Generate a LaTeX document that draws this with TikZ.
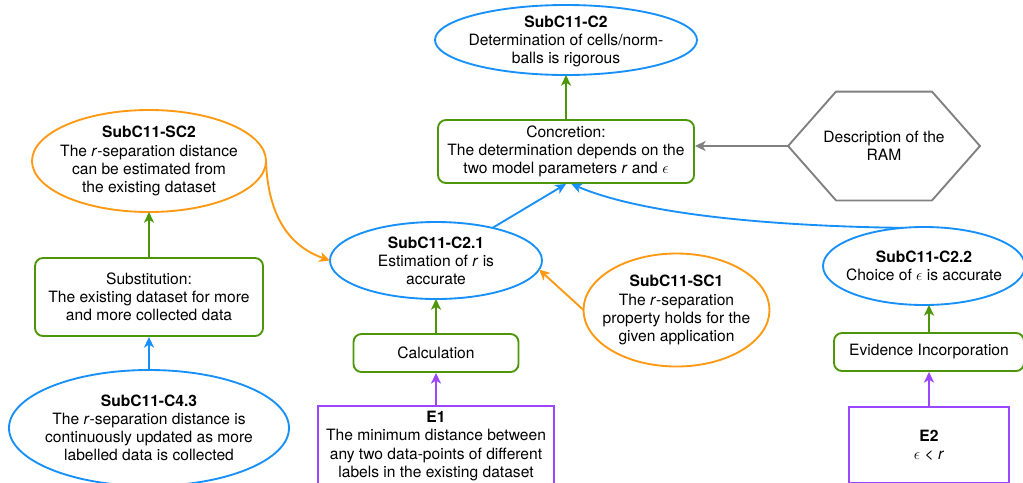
\documentclass[tikz,border=0pt]{standalone}
\usepackage{fontspec}
\setmainfont{TeX Gyre Heros}
\usetikzlibrary{shapes.geometric,arrows.meta,calc}

\definecolor{cblue}{RGB}{24,144,250}
\definecolor{corange}{RGB}{255,153,20}
\definecolor{cgreen}{RGB}{77,150,10}
\definecolor{cpurple}{RGB}{155,70,255}
\definecolor{cgray}{RGB}{128,128,128}

\tikzset{
  oval/.style={ellipse, draw, inner sep=0pt, outer sep=0pt},
  txt/.style={align=center, inner sep=0pt, text=black},
  stepbox/.style={draw=cgreen, rounded corners=6pt, align=center, inner sep=0pt},
  evbox/.style={draw=cpurple, align=center, inner sep=0pt},
  arr/.style={-{Stealth[length=8pt,width=7.5pt,inset=2.2pt]}},
}

\begin{document}
\begin{tikzpicture}[x=0.75pt, y=-0.75pt, line width=1.4pt,
  font=\fontsize{11.7}{13.6}\selectfont]
\path[fill=white, use as bounding box] (0,0) rectangle (1023,482);

% top claim
\node[oval, draw=cblue, minimum width=196.5pt, minimum height=52.5pt] (c2) at (566,40) {};
\node[txt] (c2t) at ([yshift=-1pt]c2) {\textbf{SubC11-C2}\\Determination of cells/norm-\\balls is rigorous};

% concretion strategy
\node[stepbox, minimum width=192pt, minimum height=47.25pt] (conc) at (566,151.5)
  {Concretion:\\The determination depends on the\\two model parameters \textit{r} and $\epsilon$};

% context hexagon
\node[minimum width=142.5pt, minimum height=80.25pt, inner sep=0pt] (hex) at (884,146) {};
\draw[cgray] (hex.west) -- ($(hex.north west)!0.25!(hex.north east)$)
  -- ($(hex.north west)!0.75!(hex.north east)$) -- (hex.east)
  -- ($(hex.south west)!0.75!(hex.south east)$)
  -- ($(hex.south west)!0.25!(hex.south east)$) -- cycle;
\node[txt] (hext) at (hex) {Description of the\\RAM};

% left column
\node[oval, draw=corange, minimum width=175.5pt, minimum height=76.5pt] (sc2) at (149,161) {};
\node[txt] (sc2t) at (sc2) {\textbf{SubC11-SC2}\\The \textit{r}-separation distance\\can be estimated from\\the existing dataset};

\node[stepbox, minimum width=171pt, minimum height=58.5pt] (subst) at (149,297)
  {Substitution:\\The existing dataset for more\\and more collected data};

\node[oval, draw=cblue, minimum width=210pt, minimum height=87pt] (c43) at (149,428) {};
\node[txt] (c43t) at (c43) {\textbf{SubC11-C4.3}\\The \textit{r}-separation distance is\\continuously updated as more\\labelled data is collected};

% middle column
\node[oval, draw=cblue, minimum width=159pt, minimum height=57.75pt] (c21) at (436,260.5) {};
\node[txt] (c21t) at (c21) {\textbf{SubC11-C2.1}\\Estimation of \textit{r} is\\accurate};

\node[stepbox, minimum width=123.75pt, minimum height=28.5pt] (calc) at (436,353) {Calculation};

\node[evbox, minimum width=177pt, minimum height=60pt] (e1) at (436,446)
  {\textbf{E1}\\The minimum distance between\\any two data-points of different\\labels in the existing dataset};

\node[oval, draw=corange, minimum width=139.5pt, minimum height=84.75pt] (sc1) at (676.5,310) {};
\node[txt] (sc1t) at (sc1) {\textbf{SubC11-SC1}\\The \textit{r}-separation\\property holds for the\\given application};

% right column
\node[oval, draw=cblue, minimum width=151.5pt, minimum height=58.5pt] (c22) at (924,266) {};
\node[txt] (c22t) at (c22) {\textbf{SubC11-C2.2}\\Choice of $\epsilon$ is accurate};

\node[stepbox, minimum width=142.5pt, minimum height=28.5pt] (evid) at (929,352) {Evidence Incorporation};

\node[evbox, minimum width=120pt, minimum height=57pt] (e2) at (929,445)
  {\textbf{E2}\\$\epsilon$ < \textit{r}};

% connectors
\draw[arr, cgreen] (conc.north) -- (conc.north |- c2.south);
\draw[arr, cgray] (hex.west) -- (hex.west -| conc.east);

\draw[arr, cgreen] (subst.north) -- (subst.north |- sc2.south);
\draw[arr, cblue] (c43.north) -- (c43.north |- subst.south);
\draw[arr, corange] (sc2.east) .. controls +(2,56) and +(-40,-14) .. (c21.west);

\draw[arr, cgreen] (calc.north) -- (calc.north |- c21.south);
\draw[arr, cpurple] (e1.north) -- (e1.north |- calc.south);
\draw[arr, corange] (sc1.west) -- (c21.-5);
\draw[arr, cblue] (c21.30) -- (conc.south);

\draw[arr, cgreen] (evid.north) -- (evid.north |- c22.south);
\draw[arr, cpurple] (e2.north) -- (e2.north |- evid.south);
\draw[arr, cblue] (c22.119) .. controls +(-143,-2) and +(68,29) .. ([xshift=4pt]conc.south);
\end{tikzpicture}
\end{document}
